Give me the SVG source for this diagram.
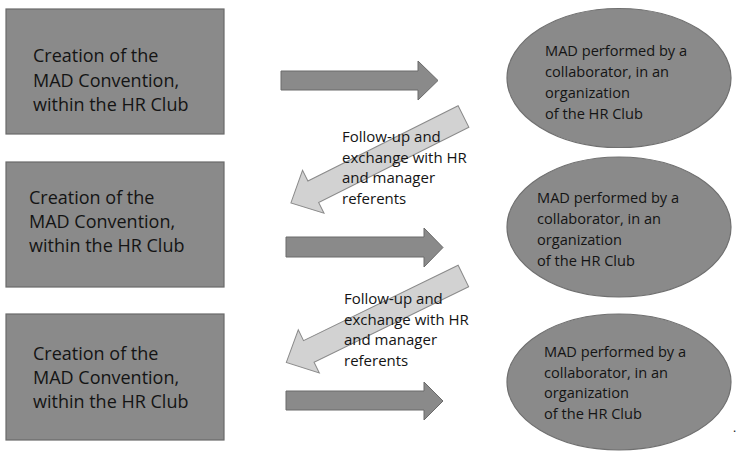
<svg xmlns="http://www.w3.org/2000/svg" width="740" height="451" viewBox="0 0 740 451">
<style>
.box{fill:#8a8a8a;stroke:#6a6a6a;stroke-width:1.2}
.ell{fill:#8a8a8a;stroke:#707070;stroke-width:1.2}
.dark{fill:#8a8a8a;stroke:#6a6a6a;stroke-width:1}
.light{fill:#d2d2d2;stroke:#8a8a8a;stroke-width:1}
.bt{font-family:"Open Sans","Noto Sans",sans-serif;font-size:18px;fill:#141414}
.et{font-family:"Open Sans","Noto Sans",sans-serif;font-size:14.6px;fill:#141414}
.lt{font-family:"Open Sans","Noto Sans",sans-serif;font-size:15px;fill:#141414}
</style>
<rect width="740" height="451" fill="#ffffff"/>
<g id="box1"><rect class="box" x="6" y="9" width="218" height="125"/>
<text class="bt" x="33"><tspan x="33" y="62">Creation of the</tspan><tspan x="33" y="87">MAD Convention,</tspan><tspan x="33" y="111">within the HR Club</tspan></text></g>
<g id="box2"><rect class="box" x="6" y="162" width="218" height="125"/>
<text class="bt"><tspan x="29" y="204">Creation of the</tspan><tspan x="29" y="228">MAD Convention,</tspan><tspan x="29" y="252">within the HR Club</tspan></text></g>
<g id="box3"><rect class="box" x="6" y="314" width="218" height="126"/>
<text class="bt"><tspan x="33" y="360">Creation of the</tspan><tspan x="33" y="384">MAD Convention,</tspan><tspan x="33" y="408">within the HR Club</tspan></text></g>
<g id="ell1"><ellipse class="ell" cx="619" cy="78" rx="112" ry="69.5"/>
<text class="et"><tspan x="545" y="56">MAD performed by a</tspan><tspan x="545" y="77">collaborator, in an</tspan><tspan x="545" y="98">organization</tspan><tspan x="545" y="119">of the HR Club</tspan></text></g>
<g id="ell2"><ellipse class="ell" cx="619" cy="227" rx="112" ry="70"/>
<text class="et"><tspan x="537" y="203">MAD performed by a</tspan><tspan x="537" y="224">collaborator, in an</tspan><tspan x="537" y="245">organization</tspan><tspan x="537" y="266">of the HR Club</tspan></text></g>
<g id="ell3"><ellipse class="ell" cx="619" cy="382" rx="112" ry="68"/>
<text class="et"><tspan x="544" y="357">MAD performed by a</tspan><tspan x="544" y="378">collaborator, in an</tspan><tspan x="544" y="398">organization</tspan><tspan x="544" y="419">of the HR Club</tspan></text></g>
<g id="connectors">
<polygon class="light" transform="translate(463.5,116.5) rotate(153.4)" points="0,-12 168,-12 168,-24 193,0 168,24 168,12 0,12"/>
<polygon class="light" transform="translate(463.4,276) rotate(154)" points="0,-12 172,-12 172,-24 197,0 172,24 172,12 0,12"/>
<polygon class="dark" points="281,71 418,71 418,61 438,80.5 418,100 418,90 281,90"/>
<polygon class="dark" points="286,237 424,237 424,228 443,247.5 424,267 424,257 286,257"/>
<polygon class="dark" points="286,391 424,391 424,382 443,401 424,420 424,410 286,410"/>
<text class="lt"><tspan x="342" y="142">Follow-up and</tspan><tspan x="342" y="162.5">exchange with HR</tspan><tspan x="342" y="183">and manager</tspan><tspan x="342" y="203.5">referents</tspan></text>
<text class="lt"><tspan x="344" y="304">Follow-up and</tspan><tspan x="344" y="325">exchange with HR</tspan><tspan x="344" y="345">and manager</tspan><tspan x="344" y="366">referents</tspan></text>
</g>
<text x="733" y="432" style="font-family:'Open Sans',sans-serif;font-size:12px;fill:#141414">.</text>
</svg>
